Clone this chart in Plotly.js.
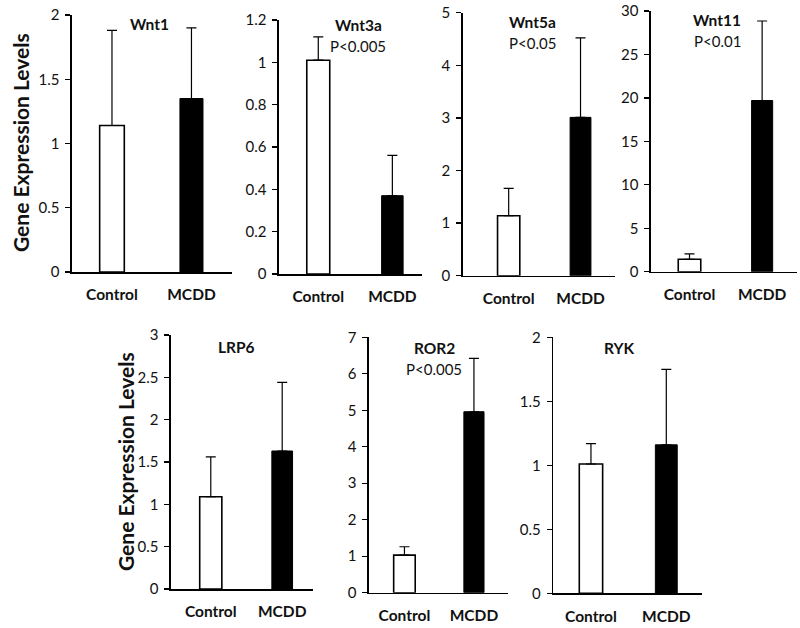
<!DOCTYPE html>
<html>
<head>
<meta charset="utf-8">
<script src="https://cdn.plot.ly/plotly-3.0.1.min.js"></script>
<style>html,body{margin:0;padding:0;background:#fff;}#chart{width:800px;height:628px;}</style>
</head>
<body>
<div id="chart"></div>
<script>
// ---- data ----
var genes = ['Wnt1', 'Wnt3a', 'Wnt5a', 'Wnt11', 'LRP6', 'ROR2', 'RYK'];
var groups = ['Control', 'MCDD'];
var controlMean = [1.14, 1.01, 1.14, 1.43, 1.09, 1.03, 1.01];
var mcddMean = [1.35, 0.37, 3.01, 19.7, 1.63, 4.96, 1.16];
var controlErr = [0.74, 0.11, 0.52, 0.61, 0.47, 0.23, 0.16];
var mcddErr = [0.55, 0.19, 1.51, 9.15, 0.81, 1.46, 0.59];
var yMax = [2, 1.2, 5, 30, 3, 7, 2];
var yDtick = [0.5, 0.2, 1, 5, 0.5, 1, 0.5];
var pValues = ['', 'P<0.005', 'P<0.05', 'P<0.01', '', 'P<0.005', ''];
var yTitle = 'Gene Expression Levels';

// ---- layout geometry (pixels) ----
var W = 800, H = 628;
var boxes = [ // x0, x1, yTop, yBottom, xmin, xmax, titleX, titleY
  [72, 232, 15, 272, -0.503, 1.51, 149, 24],
  [279, 422, 20, 274, -0.53, 1.40, 358, 25],
  [462.7, 615, 12.7, 275.7, -0.64, 1.48, 532, 22],
  [651, 797, 11, 271.7, -0.53, 1.48, 717, 20],
  [171, 312.7, 335, 589, -0.557, 1.427, 236, 347],
  [369, 508, 337.3, 592.7, -0.51, 1.49, 434, 348],
  [553.3, 701.7, 337.3, 593.3, -0.5, 1.47, 619, 348]
];

var FONT = 'Lato, "Open Sans", sans-serif';
var TXT = '#111';
var traces = [];
var layout = {
  width: W, height: H,
  margin: {l: 0, r: 0, t: 0, b: 0},
  paper_bgcolor: '#fff', plot_bgcolor: 'rgba(0,0,0,0)',
  showlegend: false,
  font: {family: FONT, color: TXT},
  annotations: []
};

for (var i = 0; i < genes.length; i++) {
  var b = boxes[i];
  var sfx = i === 0 ? '' : String(i + 1);
  var xa = 'x' + sfx, ya = 'y' + sfx;
  traces.push({
    type: 'bar', x: [groups[0]], y: [controlMean[i]], xaxis: xa, yaxis: ya,
    width: 0.31,
    marker: {color: '#ffffff', line: {color: '#000', width: 1.6}},
    error_y: {type: 'data', symmetric: false, array: [controlErr[i]], arrayminus: [0], color: '#000', thickness: 1.2, width: 5},
    hoverinfo: 'skip'
  });
  traces.push({
    type: 'bar', x: [groups[1]], y: [mcddMean[i]], xaxis: xa, yaxis: ya,
    width: 0.29,
    marker: {color: '#000000', line: {color: '#000', width: 1}},
    error_y: {type: 'data', symmetric: false, array: [mcddErr[i]], arrayminus: [0], color: '#000', thickness: 1.2, width: 5},
    hoverinfo: 'skip'
  });
  layout['xaxis' + sfx] = {
    domain: [b[0] / W, b[1] / W],
    anchor: ya,
    type: 'category',
    categoryorder: 'array', categoryarray: groups,
    range: [b[4], b[5]],
    showline: true, linecolor: '#000', linewidth: 1.6,
    ticks: '', showgrid: false, zeroline: false,
    tickfont: {family: FONT, size: 15.5, color: TXT, weight: 'bold'},
    ticklabelstandoff: 8,
    fixedrange: true
  };
  layout['yaxis' + sfx] = {
    domain: [1 - b[3] / H, 1 - b[2] / H],
    anchor: xa,
    range: [0, yMax[i]],
    dtick: yDtick[i], tick0: 0,
    showline: true, linecolor: '#000', linewidth: 1.6,
    ticks: 'outside', ticklen: 5, tickwidth: 1.3, tickcolor: '#000',
    showgrid: false, zeroline: false,
    tickfont: {family: FONT, size: 15, color: TXT},
    ticklabelstandoff: 3,
    fixedrange: true
  };
  layout.annotations.push({
    xref: 'paper', yref: 'paper', x: b[6] / W, y: 1 - b[7] / H,
    text: '<b>' + genes[i] + '</b>', showarrow: false,
    xanchor: 'center', yanchor: 'middle',
    font: {family: FONT, size: 15.5, color: TXT}
  });
  if (pValues[i]) {
    layout.annotations.push({
      xref: 'paper', yref: 'paper', x: b[6] / W, y: 1 - (b[7] + 21) / H,
      text: pValues[i], showarrow: false,
      xanchor: 'center', yanchor: 'middle',
      font: {family: FONT, size: 15, color: TXT}
    });
  }
}

// y-axis titles (left of panel 1 and panel 5)
[[20, 143], [126, 462]].forEach(function (p) {
  layout.annotations.push({
    xref: 'paper', yref: 'paper', x: p[0] / W, y: 1 - p[1] / H,
    text: '<b>' + yTitle + '</b>', showarrow: false, textangle: -90,
    xanchor: 'center', yanchor: 'middle',
    font: {family: FONT, size: 21, color: TXT}
  });
});

Plotly.newPlot('chart', traces, layout, {staticPlot: true, displayModeBar: false});
</script>
</body>
</html>
